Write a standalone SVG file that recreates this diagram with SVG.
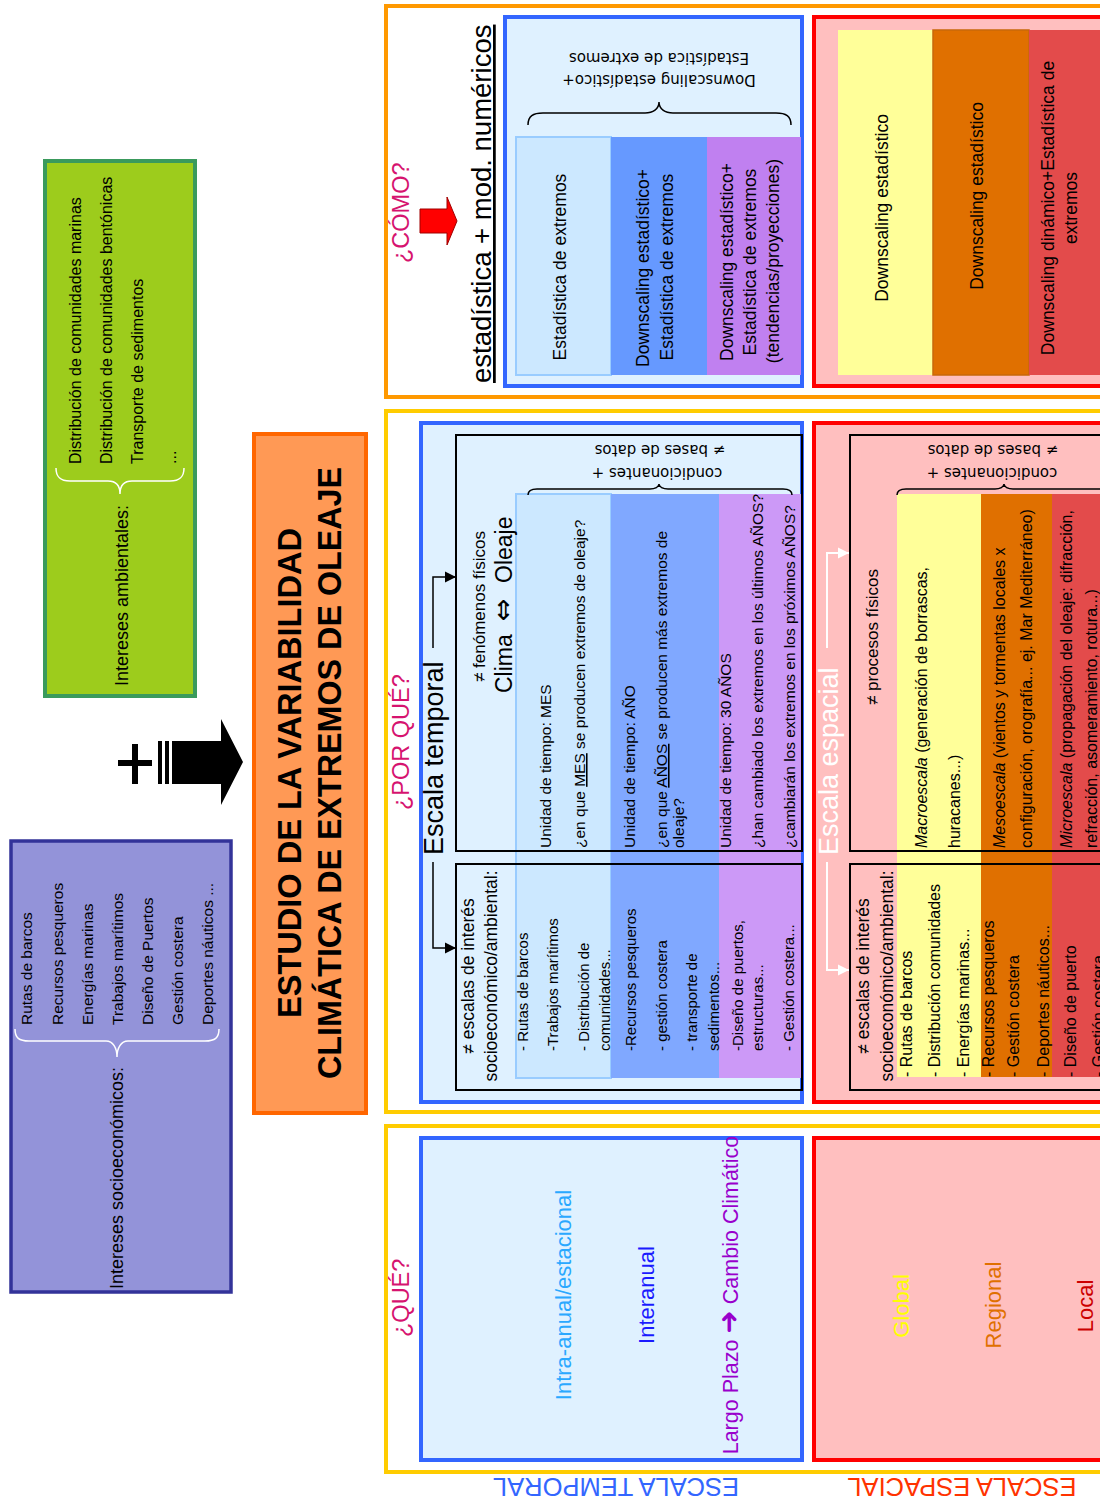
<svg xmlns="http://www.w3.org/2000/svg" width="1100" height="1504" viewBox="0 0 1100 1504">
<style>
.t{font-family:"Liberation Sans",Arial,sans-serif;fill:#000}
.dv{font-family:"DejaVu Sans",sans-serif;fill:#000;font-size:15px}
.q{font-family:"Liberation Sans",Arial,sans-serif;fill:#d6136f;font-size:23.5px}
.blue{fill:#dff1ff;stroke:#3366ff;stroke-width:4}
.red{fill:#ffbfbf;stroke:#ff0000;stroke-width:4}
.frm{fill:none;stroke-width:4}
.bf{fill:none;stroke:#000;stroke-width:2}
.br{fill:none;stroke-width:1.5}
.s15{font-size:15px}.s155{font-size:15.5px}.s16{font-size:16px}.s175{font-size:17.5px}
.mid{text-anchor:middle}
.sym{font-family:"DejaVu Sans",sans-serif}
</style>
<defs>
<marker id="ahk" viewBox="0 0 10 10" refX="10" refY="5" markerUnits="userSpaceOnUse" markerWidth="11" markerHeight="12" orient="auto"><path d="M0,0 L10,5 L0,10 z" fill="#000"/></marker>
<marker id="ahw" viewBox="0 0 10 10" refX="10" refY="5" markerUnits="userSpaceOnUse" markerWidth="11" markerHeight="12" orient="auto"><path d="M0,0 L10,5 L0,10 z" fill="#fff"/></marker>
</defs>
<rect width="1100" height="1504" fill="#fff"/>

<g id="socioeconomicos">
<rect x="11" y="841" width="220" height="451" fill="#9393d9" stroke="#333399" stroke-width="3.5"/>
<text class="t" font-size="18" transform="translate(123,1289) rotate(-90)">Intereses socioeconómicos:</text>
<path class="br" stroke="#fff" d="M15,1029 C15,1038 19,1041 29,1041 L106,1041 C113,1041 117,1048 117,1057 C117,1048 121,1041 128,1041 L205,1041 C215,1041 219,1038 219,1029"/>
<g class="t s155">
<text transform="translate(32,1025) rotate(-90)">Rutas de barcos</text>
<text transform="translate(63,1025) rotate(-90)">Recursos pesqueros</text>
<text transform="translate(93,1025) rotate(-90)">Energías marinas</text>
<text transform="translate(123,1025) rotate(-90)">Trabajos marítimos</text>
<text transform="translate(153,1025) rotate(-90)">Diseño de Puertos</text>
<text transform="translate(183,1025) rotate(-90)">Gestión costera</text>
<text transform="translate(213,1025) rotate(-90)">Deportes náuticos ...</text>
</g>
</g>

<g id="ambientales">
<rect x="45" y="161" width="150" height="535" fill="#9dcc1c" stroke="#3a9a5c" stroke-width="4"/>
<text class="t" font-size="18" transform="translate(128,686) rotate(-90)">Intereses ambientales:</text>
<path class="br" stroke="#fff" d="M56,468 C56,477 60,481 70,481 L108,481 C116,481 120,486 120,494 C120,486 124,481 132,481 L170,481 C180,481 184,477 184,468"/>
<g class="t s16">
<text transform="translate(81,464) rotate(-90)">Distribución de comunidades marinas</text>
<text transform="translate(112,464) rotate(-90)">Distribución de comunidades bentónicas</text>
<text transform="translate(143,464) rotate(-90)">Transporte de sedimentos</text>
<text transform="translate(176,464) rotate(-90)">...</text>
</g>
</g>

<g id="suma">
<rect x="118" y="760" width="34" height="6" fill="#000"/>
<rect x="132" y="744" width="6" height="40" fill="#000"/>
<rect x="158" y="741" width="4" height="43" fill="#000"/>
<rect x="165" y="741" width="4" height="43" fill="#000"/>
<polygon points="172,741 221,741 221,719 243,762 221,805 221,784 172,784" fill="#000"/>
</g>

<g id="titulo">
<rect x="254" y="434" width="112" height="679" fill="#ff9955" stroke="#ff6600" stroke-width="4"/>
<text class="t mid" font-size="34" font-weight="bold" textLength="490" lengthAdjust="spacingAndGlyphs" transform="translate(301,773) rotate(-90)">ESTUDIO DE LA VARIABILIDAD</text>
<text class="t mid" font-size="34" font-weight="bold" textLength="612" lengthAdjust="spacingAndGlyphs" transform="translate(341,773) rotate(-90)">CLIMÁTICA DE EXTREMOS DE OLEAJE</text>
</g>

<g id="como">
<rect class="frm" x="386" y="6" width="730" height="391" stroke="#ff9900"/>
<text class="q" transform="translate(409,263) rotate(-90)">¿CÓMO?</text>
<polygon points="420,209 447,209 447,197 457,221 447,245 447,233 420,233" fill="#ff0000" stroke="#a00000" stroke-width="1"/>
<text class="t" font-size="27.5" text-decoration="underline" transform="translate(491,383) rotate(-90)">estadística + mod. numéricos</text>
</g>

<g id="como-temporal">
<rect class="blue" x="505" y="17" width="297" height="369"/>
<text class="dv mid" transform="translate(659,75) rotate(180)">Downscaling estadístico+</text>
<text class="dv mid" transform="translate(659,53) rotate(180)">Estadística de extremos</text>
<path class="br" stroke="#000" d="M528,125 C528,116 533,113 543,113 L645,113 C653,113 659,109 659,102 C659,109 665,113 673,113 L776,113 C786,113 791,116 791,125"/>
<rect x="516" y="137" width="95" height="238" fill="#cce8ff" stroke="#99ccff" stroke-width="2"/>
<rect x="611" y="137" width="96" height="238" fill="#6699ff"/>
<rect x="707" y="137" width="94" height="238" fill="#c080f0"/>
<g class="t s175 mid">
<text transform="translate(566,267) rotate(-90)">Estadística de extremos</text>
<text transform="translate(649,268) rotate(-90)">Downscaling estadístico+</text>
<text transform="translate(673,267) rotate(-90)">Estadística de extremos</text>
<text transform="translate(733,262) rotate(-90)">Downscaling estadístico+</text>
<text transform="translate(756,262) rotate(-90)">Estadística de extremos</text>
<text transform="translate(779,261) rotate(-90)">(tendencias/proyecciones)</text>
</g>
</g>

<g id="como-espacial">
<rect class="red" x="814" y="17" width="300" height="369"/>
<rect x="838" y="30" width="95" height="345" fill="#ffff99"/>
<rect x="933" y="30" width="96" height="345" fill="#e07000" stroke="#c8680a" stroke-width="1.5"/>
<rect x="1029" y="30" width="81" height="345" fill="#e34b4b"/>
<g class="t s175 mid">
<text transform="translate(888,208) rotate(-90)">Downscaling estadístico</text>
<text transform="translate(983,196) rotate(-90)">Downscaling estadístico</text>
<text transform="translate(1054,208) rotate(-90)">Downscaling dinámico+Estadística de</text>
<text transform="translate(1077,208) rotate(-90)">extremos</text>
</g>
</g>

<g id="porque">
<rect class="frm" x="386" y="411" width="730" height="701" stroke="#ffcc00"/>
<text class="q" transform="translate(409,810) rotate(-90)">¿POR QUÉ?</text>
</g>

<g id="porque-temporal">
<rect class="blue" x="421" y="423" width="381" height="679"/>
<rect x="516" y="494" width="95" height="584" fill="#cce8ff" stroke="#99ccff" stroke-width="2"/>
<rect x="611" y="494" width="108" height="584" fill="#80a8ff"/>
<rect x="719" y="494" width="82" height="584" fill="#cc99f7"/>
<rect class="bf" x="456" y="435" width="346" height="416"/>
<rect class="bf" x="456" y="864" width="346" height="226"/>
<text class="dv mid" transform="translate(660,445) rotate(180)">≠ bases de datos</text>
<text class="dv mid" transform="translate(657,468) rotate(180)">condicionantes +</text>
<path class="br" stroke="#000" d="M528,495 C528,491 531,489 537,489 L650,489 C655,489 659,487 659,484 C659,487 663,489 668,489 L783,489 C789,489 792,491 792,495"/>
<text class="t" font-size="27" transform="translate(443,855) rotate(-90)">Escala temporal</text>
<text class="t" font-size="17" transform="translate(485,682) rotate(-90)">≠ fenómenos físicos</text>
<text class="t" font-size="23" transform="translate(512,693) rotate(-90)">Clima<tspan x="72" class="sym" font-size="27">⇔</tspan><tspan x="110">Oleaje</tspan></text>
<g class="t s155">
<text transform="translate(551,848) rotate(-90)">Unidad de tiempo: MES</text>
<text transform="translate(585,848) rotate(-90)">¿en que <tspan text-decoration="underline">MES</tspan> se producen extremos de oleaje?</text>
<text transform="translate(635,848) rotate(-90)">Unidad de tiempo: AÑO</text>
<text transform="translate(667,848) rotate(-90)">¿en que  <tspan text-decoration="underline">AÑOS</tspan> se producen más extremos de</text>
<text transform="translate(684,848) rotate(-90)">oleaje?</text>
<text transform="translate(731,848) rotate(-90)">Unidad de tiempo: 30 AÑOS</text>
<text transform="translate(763,848) rotate(-90)">¿han cambiado los extremos en los últimos AÑOS?</text>
<text transform="translate(795,848) rotate(-90)">¿cambiarán los extremos en los próximos AÑOS?</text>
</g>
<text class="t s175 mid" transform="translate(474,976) rotate(-90)">≠ escalas de interés</text>
<text class="t s175 mid" transform="translate(497,976) rotate(-90)">socioeconómico/ambiental:</text>
<g class="t s15">
<text transform="translate(528,1051) rotate(-90)">- Rutas de barcos</text>
<text transform="translate(558,1051) rotate(-90)">-Trabajos marítimos</text>
<text transform="translate(589,1051) rotate(-90)">- Distribución de</text>
<text transform="translate(610,1051) rotate(-90)">comunidades...</text>
<text transform="translate(636,1051) rotate(-90)">-Recursos pesqueros</text>
<text transform="translate(667,1051) rotate(-90)">- gestión costera</text>
<text transform="translate(697,1051) rotate(-90)">- transporte de</text>
<text transform="translate(719,1051) rotate(-90)">sedimentos...</text>
<text transform="translate(743,1051) rotate(-90)">-Diseño de puertos,</text>
<text transform="translate(763,1051) rotate(-90)">estructuras...</text>
<text transform="translate(794,1051) rotate(-90)">- Gestión costera...</text>
</g>
</g>

<g id="porque-espacial">
<rect class="red" x="814" y="423" width="300" height="679"/>
<rect x="897" y="494" width="84" height="583" fill="#ffff99"/>
<rect x="981" y="494" width="71" height="583" fill="#e07000"/>
<rect x="1052" y="494" width="58" height="583" fill="#e34b4b"/>
<rect class="bf" x="850" y="435" width="270" height="416"/>
<rect class="bf" x="850" y="864" width="270" height="226"/>
<text class="dv mid" transform="translate(993,445) rotate(180)">≠ bases de datos</text>
<text class="dv mid" transform="translate(992,468) rotate(180)">condicionantes +</text>
<path class="br" stroke="#000" d="M897,495 C897,491 900,489 906,489 L995,489 C1000,489 1004,487 1004,484 C1004,487 1008,489 1013,489 L1112,489"/>
<text class="t" font-size="27" style="fill:#fff" transform="translate(838,855) rotate(-90)">Escala espacial</text>
<text class="t" font-size="17" transform="translate(878,705) rotate(-90)">≠ procesos físicos</text>
<g class="t s16">
<text transform="translate(927,848) rotate(-90)"><tspan font-style="italic">Macroescala</tspan> (generación de borrascas,</text>
<text transform="translate(960,848) rotate(-90)">huracanes...)</text>
<text transform="translate(1005,848) rotate(-90)"><tspan font-style="italic">Mesoescala</tspan> (vientos y tormentas locales x</text>
<text transform="translate(1032,848) rotate(-90)">configuración, orografía... ej. Mar Mediterráneo)</text>
<text transform="translate(1072,848) rotate(-90)"><tspan font-style="italic">Microescala</tspan> (propagación del oleaje: difracción,</text>
<text transform="translate(1097,848) rotate(-90)">refracción, asomeramiento, rotura...)</text>
</g>
<text class="t s175 mid" transform="translate(869,976) rotate(-90)">≠ escalas de interés</text>
<text class="t s175 mid" transform="translate(893,976) rotate(-90)">socioeconómico/ambiental:</text>
<g class="t s16">
<text transform="translate(912,1077) rotate(-90)">- Rutas de barcos</text>
<text transform="translate(940,1077) rotate(-90)">- Distribución comunidades</text>
<text transform="translate(969,1077) rotate(-90)">- Energías marinas...</text>
<text transform="translate(994,1077) rotate(-90)">- Recursos pesqueros</text>
<text transform="translate(1019,1077) rotate(-90)">- Gestión costera</text>
<text transform="translate(1049,1077) rotate(-90)">- Deportes náuticos...</text>
<text transform="translate(1076,1077) rotate(-90)">- Diseño de puerto</text>
<text transform="translate(1104,1077) rotate(-90)">- Gestión costera</text>
</g>
</g>

<g id="que">
<rect class="frm" x="386" y="1126" width="730" height="346" stroke="#ffcc00"/>
<text class="q" transform="translate(409,1337) rotate(-90)">¿QUÉ?</text>
</g>

<g id="que-temporal">
<rect class="blue" x="421" y="1138" width="381" height="322"/>
<text class="t mid" font-size="22" style="fill:#2aa8ff" transform="translate(571,1295) rotate(-90)">Intra-anual/estacional</text>
<text class="t mid" font-size="22" style="fill:#1a1aff" transform="translate(654,1295) rotate(-90)">Interanual</text>
<text class="t mid" font-size="21.5" style="fill:#9900cc" transform="translate(738,1295) rotate(-90)">Largo Plazo <tspan class="sym" font-weight="bold" font-size="28">➜</tspan> Cambio Climático</text>
</g>

<g id="que-espacial">
<rect class="red" x="814" y="1138" width="300" height="322"/>
<text class="t mid" font-size="22" style="fill:#ffff00" transform="translate(909,1306) rotate(-90)">Global</text>
<text class="t mid" font-size="22" style="fill:#e07000" transform="translate(1001,1305) rotate(-90)">Regional</text>
<text class="t mid" font-size="22" style="fill:#cc0000" transform="translate(1093,1306) rotate(-90)">Local</text>
</g>

<g id="etiquetas">
<text class="t mid" font-size="25.5" style="fill:#3366ff" transform="translate(616,1478) rotate(180)">ESCALA TEMPORAL</text>
<text class="t mid" font-size="25.5" style="fill:#ff3300" transform="translate(962,1478) rotate(180)">ESCALA ESPACIAL</text>
</g>

<g id="connectors">
<path d="M433,648 V577 H456" fill="none" stroke="#000" stroke-width="1.5" marker-end="url(#ahk)"/>
<path d="M433,862 V948 H456" fill="none" stroke="#000" stroke-width="1.5" marker-end="url(#ahk)"/>
<path d="M827,648 V553 H849" fill="none" stroke="#fff" stroke-width="2" marker-end="url(#ahw)"/>
<path d="M827,862 V970 H849" fill="none" stroke="#fff" stroke-width="2" marker-end="url(#ahw)"/>
</g>
</svg>
